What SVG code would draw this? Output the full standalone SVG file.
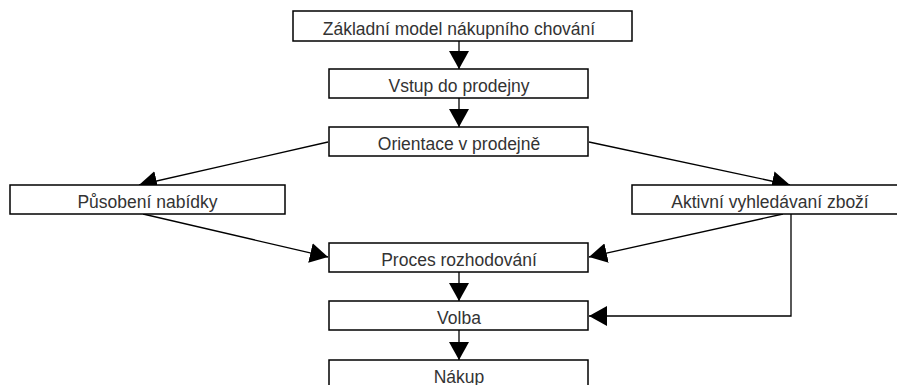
<svg xmlns="http://www.w3.org/2000/svg" width="897" height="385" viewBox="0 0 897 385">
<style>
.box{fill:#fff;stroke:#000;stroke-width:1.5}
.lbl{font-family:"Liberation Sans",Arial,sans-serif;font-size:17.5px;fill:#333;text-anchor:middle}
.edge{fill:none;stroke:#000;stroke-width:1.3}
</style>
<defs>
<marker id="ah" markerUnits="userSpaceOnUse" markerWidth="20" markerHeight="20" refX="18" refY="10" orient="auto">
<path d="M0,0 L18,10 L0,20 z" fill="#000"/>
</marker>
</defs>
<rect width="897" height="385" fill="#fff"/>
<g id="connectors">
<line class="edge" x1="459" y1="41" x2="459" y2="69" marker-end="url(#ah)"/>
<line class="edge" x1="459" y1="98" x2="459" y2="127" marker-end="url(#ah)"/>
<line class="edge" x1="328" y1="142" x2="139" y2="185" marker-end="url(#ah)"/>
<line class="edge" x1="589" y1="142" x2="790" y2="185" marker-end="url(#ah)"/>
<line class="edge" x1="143" y1="214" x2="328" y2="257" marker-end="url(#ah)"/>
<line class="edge" x1="783" y1="214" x2="589" y2="257" marker-end="url(#ah)"/>
<polyline class="edge" points="791,214 791,316 589,316" marker-end="url(#ah)"/>
<line class="edge" x1="459" y1="272" x2="459" y2="301" marker-end="url(#ah)"/>
<line class="edge" x1="459" y1="330" x2="459" y2="360" marker-end="url(#ah)"/>
</g>
<g id="n1"><rect class="box" x="293" y="11" width="339" height="30"/><text class="lbl" x="459" y="35">Základní model nákupního chování</text></g>
<g id="n2"><rect class="box" x="329" y="69" width="259" height="29"/><text class="lbl" x="459" y="92">Vstup do prodejny</text></g>
<g id="n3"><rect class="box" x="329" y="127" width="259" height="29"/><text class="lbl" x="459" y="150">Orientace v prodejně</text></g>
<g id="n4"><rect class="box" x="10" y="185" width="275" height="29"/><text class="lbl" x="147.5" y="208">Působení nabídky</text></g>
<g id="n5"><rect class="box" x="632" y="185" width="275" height="29"/><text class="lbl" x="770" y="208">Aktivní vyhledávaní zboží</text></g>
<g id="n6"><rect class="box" x="329" y="243" width="259" height="29"/><text class="lbl" x="459" y="266">Proces rozhodování</text></g>
<g id="n7"><rect class="box" x="329" y="301" width="259" height="29"/><text class="lbl" x="459" y="324">Volba</text></g>
<g id="n8"><rect class="box" x="329" y="360" width="259" height="29"/><text class="lbl" x="459" y="383">Nákup</text></g>
</svg>
